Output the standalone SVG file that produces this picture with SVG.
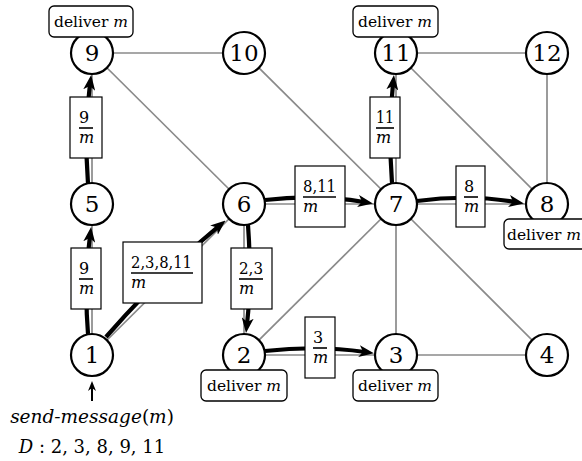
<svg xmlns="http://www.w3.org/2000/svg" width="582" height="461" viewBox="0 0 582 461" font-family="'DejaVu Serif', 'Liberation Serif', serif">
<style>
.g{stroke:#8a8a8a;stroke-width:1.7;fill:none}
.a{stroke:#000;stroke-width:4.2;fill:none;marker-end:url(#ah)}
.n circle{fill:#fff;stroke:#000;stroke-width:2.2}
.n text{font-size:23px;text-anchor:middle}
.lb rect{fill:#fff;stroke:#000;stroke-width:1.2}
.lb line{stroke:#000;stroke-width:1.6}
.lb text{font-size:16px}
.dv rect{fill:#fff;stroke:#000;stroke-width:1.3}
.dv text{font-size:15.5px;text-anchor:middle}
.t{text-anchor:middle}
.it{font-style:italic}
</style>
<defs>
<marker id="ah" markerUnits="userSpaceOnUse" markerWidth="15" markerHeight="12" viewBox="0 0 15 12" refX="6" refY="6" orient="auto">
<path d="M0,0 L15,6 L0,12 L4,6 z" fill="#000"/>
</marker>
<marker id="sa" markerUnits="userSpaceOnUse" markerWidth="10" markerHeight="10" viewBox="0 0 10 10" refX="3" refY="5" orient="auto">
<path d="M0,1 L10,5 L0,9 L3,5 z" fill="#000"/>
</marker>
</defs>
<g id="connectors">
<line class="g" x1="92" y1="53" x2="244" y2="53"/>
<line class="g" x1="92" y1="53" x2="92" y2="204"/>
<line class="g" x1="92" y1="53" x2="244" y2="204"/>
<line class="g" x1="244" y1="53" x2="396" y2="204"/>
<line class="g" x1="396" y1="53" x2="547" y2="53"/>
<line class="g" x1="396" y1="53" x2="396" y2="204"/>
<line class="g" x1="396" y1="53" x2="547" y2="204"/>
<line class="g" x1="547" y1="53" x2="547" y2="204"/>
<line class="g" x1="92" y1="204" x2="92" y2="355"/>
<line class="g" x1="92" y1="355" x2="244" y2="204"/>
<line class="g" x1="244" y1="204" x2="396" y2="204"/>
<line class="g" x1="244" y1="204" x2="244" y2="355"/>
<line class="g" x1="396" y1="204" x2="547" y2="204"/>
<line class="g" x1="396" y1="204" x2="244" y2="355"/>
<line class="g" x1="396" y1="204" x2="396" y2="355"/>
<line class="g" x1="396" y1="204" x2="547" y2="355"/>
<line class="g" x1="244" y1="355" x2="396" y2="355"/>
<line class="g" x1="396" y1="355" x2="547" y2="355"/>
<path class="a" d="M88,334 Q84,285 90,236"/>
<path class="a" d="M88,184 Q84,130 90,84"/>
<path class="a" d="M106,337 Q160,275 218.6,226.3"/>
<path class="a" d="M265,200 Q316,194 364,202"/>
<path class="a" d="M248,225 Q252,280 247,324"/>
<path class="a" d="M392,183 Q388,130 393,84"/>
<path class="a" d="M417,201 Q468,194 515,202"/>
<path class="a" d="M265,351 Q318,345 365,352"/>
<line x1="92" y1="401" x2="92" y2="388" stroke="#000" stroke-width="2" marker-end="url(#sa)"/>
</g>
<g id="n9" class="n"><circle cx="92" cy="53" r="21"/><text x="92" y="61">9</text></g>
<g id="n10" class="n"><circle cx="244" cy="53" r="21"/><text x="244" y="61">10</text></g>
<g id="n11" class="n"><circle cx="396" cy="53" r="21"/><text x="396" y="61">11</text></g>
<g id="n12" class="n"><circle cx="547" cy="53" r="21"/><text x="547" y="61">12</text></g>
<g id="n5" class="n"><circle cx="92" cy="204" r="21"/><text x="92" y="212">5</text></g>
<g id="n6" class="n"><circle cx="244" cy="204" r="21"/><text x="244" y="212">6</text></g>
<g id="n7" class="n"><circle cx="396" cy="204" r="21"/><text x="396" y="212">7</text></g>
<g id="n8" class="n"><circle cx="547" cy="204" r="21"/><text x="547" y="212">8</text></g>
<g id="n1" class="n"><circle cx="92" cy="355" r="21"/><text x="92" y="363">1</text></g>
<g id="n2" class="n"><circle cx="244" cy="355" r="21"/><text x="244" y="363">2</text></g>
<g id="n3" class="n"><circle cx="396" cy="355" r="21"/><text x="396" y="363">3</text></g>
<g id="n4" class="n"><circle cx="547" cy="355" r="21"/><text x="547" y="363">4</text></g>
<g id="l59" class="lb"><rect x="70" y="97" width="32" height="61"/><text x="79" y="123">9</text><line x1="79" y1="128" x2="93" y2="128"/><text x="79" y="143" class="it">m</text></g>
<g id="l15" class="lb"><rect x="71" y="248" width="30" height="61"/><text x="79" y="274">9</text><line x1="79" y1="279" x2="93" y2="279"/><text x="79" y="294" class="it">m</text></g>
<g id="l16" class="lb"><rect x="123" y="242" width="79" height="61"/><text x="131" y="268" textLength="61" lengthAdjust="spacingAndGlyphs">2,3,8,11</text><line x1="131" y1="273" x2="193" y2="273"/><text x="131" y="288" class="it">m</text></g>
<g id="l62" class="lb"><rect x="231" y="248" width="41" height="61"/><text x="239" y="274" textLength="24" lengthAdjust="spacingAndGlyphs">2,3</text><line x1="239" y1="279" x2="263" y2="279"/><text x="239" y="294" class="it">m</text></g>
<g id="l67" class="lb"><rect x="295" y="166" width="50" height="61"/><text x="303" y="192" textLength="33" lengthAdjust="spacingAndGlyphs">8,11</text><line x1="303" y1="197" x2="336" y2="197"/><text x="303" y="212" class="it">m</text></g>
<g id="l711" class="lb"><rect x="370" y="97" width="30" height="61"/><text x="376" y="123" textLength="18" lengthAdjust="spacingAndGlyphs">11</text><line x1="376" y1="128" x2="394" y2="128"/><text x="376" y="143" class="it">m</text></g>
<g id="l78" class="lb"><rect x="456" y="166" width="29" height="61"/><text x="464" y="192">8</text><line x1="464" y1="197" x2="478" y2="197"/><text x="464" y="212" class="it">m</text></g>
<g id="l23" class="lb"><rect x="305" y="317" width="30" height="61"/><text x="313" y="343">3</text><line x1="313" y1="348" x2="327" y2="348"/><text x="313" y="363" class="it">m</text></g>
<g id="d9" class="dv"><rect x="49" y="6" width="84" height="31" rx="5"/><text x="91" y="27">deliver <tspan class="it">m</tspan></text></g>
<g id="d11" class="dv"><rect x="353" y="6" width="85" height="31" rx="5"/><text x="395" y="27">deliver <tspan class="it">m</tspan></text></g>
<g id="d8" class="dv"><rect x="504" y="219" width="86" height="30" rx="5"/><text x="544" y="240">deliver <tspan class="it">m</tspan></text></g>
<g id="d2" class="dv"><rect x="201" y="370" width="86" height="31" rx="5"/><text x="244" y="391">deliver <tspan class="it">m</tspan></text></g>
<g id="d3" class="dv"><rect x="353" y="370" width="85" height="31" rx="5"/><text x="395" y="391">deliver <tspan class="it">m</tspan></text></g>
<g id="source">
<text class="t" x="92" y="423" font-size="18.5"><tspan class="it">send-message</tspan>(<tspan class="it">m</tspan>)</text>
<text class="t" x="92" y="453" font-size="18"><tspan class="it">D</tspan> : 2, 3, 8, 9, 11</text>
</g>
</svg>
